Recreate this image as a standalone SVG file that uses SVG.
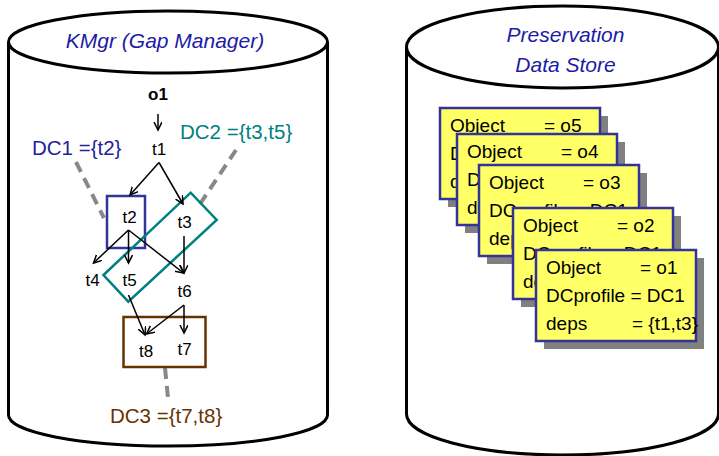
<svg xmlns="http://www.w3.org/2000/svg" width="719" height="456" viewBox="0 0 719 456">
<defs>
<marker id="arr" markerUnits="userSpaceOnUse" markerWidth="10" markerHeight="10" refX="8" refY="4" orient="auto">
<path d="M0,0 L8,4 L0,8" fill="none" stroke="#000" stroke-width="1.5"/>
</marker>
<style>
.cyl{fill:#fff;stroke:#000;stroke-width:3}
.title{font-family:"Liberation Sans",Arial,sans-serif;font-size:21px;font-style:italic;fill:#1c1ca6;text-anchor:middle}
.node{font-family:"Liberation Sans",Arial,sans-serif;font-size:17px;fill:#000;text-anchor:middle}
.dc{font-family:"Liberation Sans",Arial,sans-serif;font-size:20.5px}
.edge{stroke:#000;stroke-width:1.5;fill:none;marker-end:url(#arr)}
.dash{stroke:#888;stroke-width:4;stroke-dasharray:11 7;fill:none}
.shadow{fill:#808080}
.card{fill:#ffff66;stroke:#333399;stroke-width:2.5}
.ct{font-family:"Liberation Sans",Arial,sans-serif;font-size:19px;fill:#000}
</style>
</defs>

<g id="kmgr">
<path class="cyl" d="M8.5,42 L8.5,415 A159.5,31 0 0 0 327.5,415 L327.5,42"/>
<ellipse class="cyl" cx="168" cy="42" rx="159.5" ry="31"/>
<text class="title" x="165" y="48">KMgr (Gap Manager)</text>
</g>

<g id="store">
<path class="cyl" d="M406.5,47 L406.5,414 A156,41 0 0 0 718.5,414 L718.5,47"/>
<ellipse class="cyl" cx="562.5" cy="47" rx="156" ry="41"/>
<text class="title" x="565.5" y="42">Preservation</text>
<text class="title" x="565.5" y="72">Data Store</text>
</g>

<g id="dc-callouts">
<line class="dash" x1="76" y1="162" x2="104" y2="218"/>
<line class="dash" x1="236" y1="150" x2="200" y2="204"/>
<line class="dash" x1="165" y1="368" x2="168" y2="398"/>
</g>

<g id="dc1">
<rect x="107" y="196" width="38" height="52" fill="none" stroke="#333399" stroke-width="2.5"/>
<text class="dc" x="32" y="155" fill="#22229a">DC1 ={t2}</text>
</g>
<g id="dc2">
<polygon points="103.5,275 190.7,192.7 216.7,220 128.3,301.7" fill="none" stroke="#008080" stroke-width="2.5"/>
<text class="dc" x="180" y="139" fill="#008080">DC2 ={t3,t5}</text>
</g>
<g id="dc3">
<rect x="123.5" y="317" width="82" height="50" fill="none" stroke="#663300" stroke-width="2.5"/>
<text class="dc" x="110" y="423" fill="#663300">DC3 ={t7,t8}</text>
</g>

<g id="o1"><text class="node" x="158" y="100" font-weight="bold">o1</text></g>
<g id="t1"><text class="node" x="159" y="155">t1</text></g>
<g id="t2"><text class="node" x="129.5" y="222.5">t2</text></g>
<g id="t3"><text class="node" x="184.5" y="228">t3</text></g>
<g id="t4"><text class="node" x="92.5" y="286">t4</text></g>
<g id="t5"><text class="node" x="129.5" y="286">t5</text></g>
<g id="t6"><text class="node" x="184.5" y="296.5">t6</text></g>
<g id="t7"><text class="node" x="184.5" y="355">t7</text></g>
<g id="t8"><text class="node" x="146" y="357">t8</text></g>

<g id="connectors">
<line class="edge" x1="158" y1="114" x2="158" y2="130"/>
<line class="edge" x1="159" y1="162.5" x2="130" y2="195"/>
<line class="edge" x1="159" y1="162.5" x2="183" y2="204"/>
<line class="edge" x1="128.5" y1="230" x2="93.5" y2="263"/>
<line class="edge" x1="128.5" y1="230" x2="128.5" y2="263"/>
<line class="edge" x1="128.5" y1="230" x2="183.5" y2="273"/>
<line class="edge" x1="184" y1="236" x2="184" y2="273"/>
<line class="edge" x1="128.5" y1="295" x2="145" y2="335"/>
<line class="edge" x1="184" y1="305" x2="146.5" y2="334"/>
<line class="edge" x1="184" y1="305" x2="184" y2="333"/>
</g>

<g id="card-o5" transform="translate(440,108)">
<rect class="shadow" x="8" y="8" width="160" height="91"/>
<rect class="card" width="160" height="91"/>
<text class="ct" x="10" y="24">Object</text><text class="ct" x="104" y="24">= o5</text>
<text class="ct" x="10" y="52">DCprofile = DC1</text>
<text class="ct" x="10" y="80">deps</text>
</g>
<g id="card-o4" transform="translate(457,134)">
<rect class="shadow" x="8" y="8" width="160" height="91"/>
<rect class="card" width="160" height="91"/>
<text class="ct" x="10" y="24">Object</text><text class="ct" x="104" y="24">= o4</text>
<text class="ct" x="10" y="52">DCprofile = DC1</text>
<text class="ct" x="10" y="80">deps</text>
</g>
<g id="card-o3" transform="translate(479,165)">
<rect class="shadow" x="8" y="8" width="160" height="91"/>
<rect class="card" width="160" height="91"/>
<text class="ct" x="10" y="24">Object</text><text class="ct" x="104" y="24">= o3</text>
<text class="ct" x="10" y="52">DCprofile = DC1</text>
<text class="ct" x="10" y="80">deps</text>
</g>
<g id="card-o2" transform="translate(513,208)">
<rect class="shadow" x="8" y="8" width="160" height="91"/>
<rect class="card" width="160" height="91"/>
<text class="ct" x="10" y="24">Object</text><text class="ct" x="104" y="24">= o2</text>
<text class="ct" x="10" y="52">DCprofile = DC1</text>
<text class="ct" x="10" y="80">deps</text>
</g>
<g id="card-o1" transform="translate(536,250)">
<rect class="shadow" x="8" y="8" width="160" height="91"/>
<rect class="card" width="160" height="91"/>
<text class="ct" x="10" y="24">Object</text><text class="ct" x="104" y="24">= o1</text>
<text class="ct" x="10" y="52">DCprofile = DC1</text>
<text class="ct" x="10" y="80">deps</text><text class="ct" x="96" y="80">= {t1,t3}</text>
</g>
</svg>
